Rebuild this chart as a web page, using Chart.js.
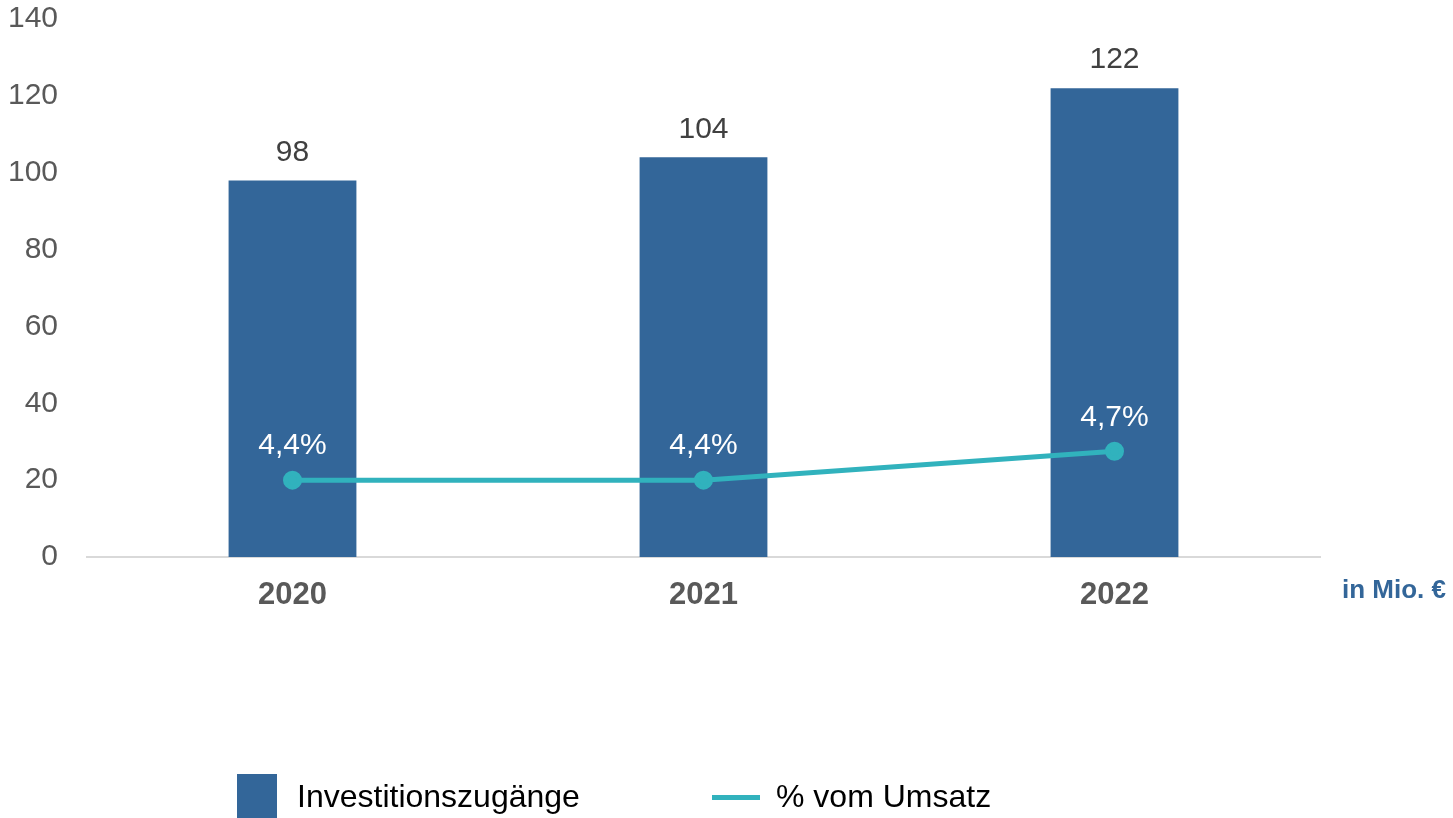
<!DOCTYPE html>
<html lang="de">
<head>
<meta charset="utf-8">
<script src="https://cdn.jsdelivr.net/npm/chart.js@4.4.0/dist/chart.umd.min.js"></script>
<style>
  html, body { margin: 0; padding: 0; background: #fff; }
  #wrap { position: relative; width: 1453px; height: 818px; overflow: hidden; font-family: "Liberation Sans", Arial, sans-serif; }
  #chart { position: absolute; left: 0; top: 0; }
  .unit { position: absolute; left: 1342px; top: 574px; font-size: 26px; font-weight: bold; color: #336699; white-space: nowrap; }
  .leg { position: absolute; top: 774px; font-size: 32px; color: #000; white-space: nowrap; }
  .leg .box { position: absolute; left: 0; top: 0; width: 40px; height: 44px; background: #336699; }
  .leg .ln { position: absolute; left: 0; top: 21px; width: 48px; height: 5px; background: #31b2bd; }
  .leg span.t { position: absolute; top: 4px; }
</style>
</head>
<body>
<div id="wrap">
  <canvas id="chart" width="1453" height="818"></canvas>
  <div class="unit">in Mio. €</div>
  <div class="leg" style="left:237px"><div class="box"></div><span class="t" style="left:60px">Investitionszugänge</span></div>
  <div class="leg" style="left:712px"><div class="ln"></div><span class="t" style="left:64px">% vom Umsatz</span></div>
</div>
<script>
// Daten
const years = ['2020', '2021', '2022'];
const investitionen = [98, 104, 122];
const anteilUmsatz = [4.4, 4.4, 4.7];
const yTicks = [0, 20, 40, 60, 80, 100, 120, 140];

const barColor = '#336699';
const lineColor = '#31b2bd';
const fontFamily = '"Liberation Sans", Arial, sans-serif';

// Beschriftungen über Balken und Punkten
const valueLabels = {
    id: 'valueLabels',
    afterDatasetsDraw(chart) {
        const ctx = chart.ctx;
        ctx.save();
        ctx.textAlign = 'center';
        ctx.textBaseline = 'middle';
        ctx.font = '30px ' + fontFamily;

        // Balken = Datensatz 0
        chart.getDatasetMeta(0).data.forEach((bar, i) => {
            ctx.fillStyle = '#404040';
            ctx.fillText(String(investitionen[i]), bar.x, bar.y - 28);
        });

        // Linie = Datensatz 1
        chart.getDatasetMeta(1).data.forEach((pt, i) => {
            ctx.fillStyle = '#ffffff';
            ctx.fillText(anteilUmsatz[i].toFixed(1).replace('.', ',') + '%', pt.x, pt.y - 34);
        });
        ctx.restore();
    }
};

const ctx = document.getElementById('chart').getContext('2d');
new Chart(ctx, {
    type: 'bar',
    data: {
        labels: years,
        datasets: [
            {
                label: 'Investitionszugänge',
                data: investitionen,
                yAxisID: 'y',
                backgroundColor: barColor,
                barPercentage: 0.311,
                categoryPercentage: 1,
                order: 1
            },
            {
                type: 'line',
                label: '% vom Umsatz',
                data: anteilUmsatz,
                yAxisID: 'y1',
                borderColor: lineColor,
                backgroundColor: lineColor,
                borderWidth: 5,
                pointRadius: 7,
                pointHoverRadius: 7,
                tension: 0,
                order: 0
            }
        ]
    },
    options: {
        responsive: false,
        animation: false,
        layout: { padding: { top: 0, right: 133, left: 0, bottom: 0 } },
        plugins: {
            legend: { display: false },
            tooltip: { enabled: false }
        },
        scales: {
            x: {
                grid: { display: false, drawTicks: false },
                border: { display: true, color: '#d9d9d9', width: 2 },
                ticks: {
                    color: '#595959',
                    padding: 20,
                    font: { family: fontFamily, size: 31, weight: 'bold' }
                },
                afterFit(scale) { scale.height = 261; }
            },
            y: {
                min: 0,
                max: 140,
                afterBuildTicks(scale) { scale.ticks = yTicks.map(v => ({ value: v })); },
                grid: { display: false, drawTicks: false },
                border: { display: false },
                ticks: {
                    color: '#595959',
                    padding: 29,
                    font: { family: fontFamily, size: 30 }
                },
                afterFit(scale) {
                    scale.width = 87;
                    // Diagrammfläche beginnt bei y = 19
                    scale.paddingTop = 19;
                    scale.paddingBottom = 0;
                }
            },
            y1: {
                display: false,
                min: 3.6,
                max: 9.2
            }
        }
    },
    plugins: [valueLabels]
});
</script>
</body>
</html>
